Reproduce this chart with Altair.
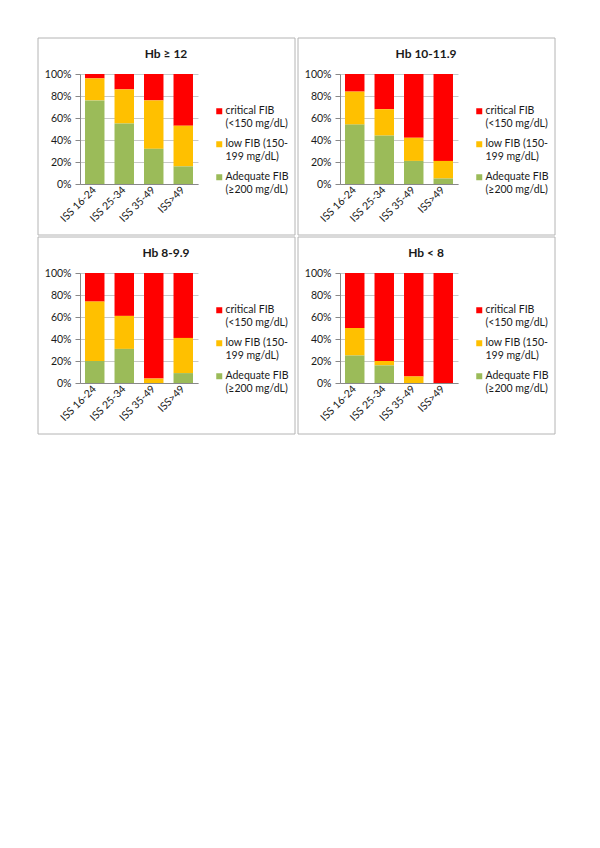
import altair as alt
import pandas as pd

categories = ["ISS 16-24", "ISS 25-34", "ISS 35-49", "ISS>49"]
panel_titles = ["Hb ≥ 12", "Hb 10-11.9", "Hb 8-9.9", "Hb < 8"]
fib_levels = ["critical FIB|(<150 mg/dL)", "low FIB (150-|199 mg/dL)", "Adequate FIB|(≥200 mg/dL)"]
fib_colors = ["#FF0000", "#FFC000", "#9BBB59"]

# percent of patients per ISS group
hb12_adequate = [76, 55, 32, 16]
hb12_low = [20, 31, 44, 37]
hb12_critical = [4, 14, 24, 47]

hb10_adequate = [54, 44, 21, 5]
hb10_low = [30, 24, 21, 16]
hb10_critical = [16, 32, 58, 79]

hb8_adequate = [20, 31, 0, 9]
hb8_low = [54, 30, 4, 32]
hb8_critical = [26, 39, 96, 59]

hblt8_adequate = [25, 16, 0, 0]
hblt8_low = [25, 4, 6, 0]
hblt8_critical = [50, 80, 94, 100]

panel_series = [
    (hb12_critical, hb12_low, hb12_adequate),
    (hb10_critical, hb10_low, hb10_adequate),
    (hb8_critical, hb8_low, hb8_adequate),
    (hblt8_critical, hblt8_low, hblt8_adequate),
]

FONT = "Lato"
TXT = "#1a1a1a"


def make_panel(title, series):
    rows = []
    for level_idx, (level, vals) in enumerate(zip(fib_levels, series)):
        for cat, v in zip(categories, vals):
            rows.append({"category": cat, "level": level, "value": v, "rank": 2 - level_idx})
    df = pd.DataFrame(rows)

    border = alt.Chart(alt.Data(values=[{"t": title}])).mark_rect(
        fill="transparent", stroke="#B4B4B4", strokeWidth=1
    ).encode(x=alt.value(-42), x2=alt.value(215), y=alt.value(-36), y2=alt.value(161))

    ttl = alt.Chart(alt.Data(values=[{"t": title}])).mark_text(
        font=FONT, fontSize=12, fontWeight="bold", color=TXT, baseline="middle", align="center"
    ).encode(x=alt.value(86), y=alt.value(-20), text="t:N")

    bars = alt.Chart(df).mark_bar().encode(
        x=alt.X(
            "category:N", sort=categories, title=None,
            scale=alt.Scale(paddingInner=0.34, paddingOuter=0.17),
            axis=alt.Axis(labelAngle=-45, labelAlign="right", labelBaseline="middle",
                          ticks=False, labelPadding=4, domainColor="#888888",
                          labelFont=FONT, labelFontSize=10.5, labelColor=TXT),
        ),
        y=alt.Y(
            "value:Q", stack="zero", title=None,
            scale=alt.Scale(domain=[0, 100], nice=False),
            axis=alt.Axis(values=[0, 20, 40, 60, 80, 100], labelExpr="datum.value + '%'",
                          ticks=True, tickSize=5, tickColor="#888888", labelPadding=4,
                          domainColor="#888888",
                          gridColor="#C8C8C8", labelFont=FONT, labelFontSize=10.5, labelColor=TXT),
        ),
        color=alt.Color(
            "level:N",
            scale=alt.Scale(domain=fib_levels, range=fib_colors),
            legend=alt.Legend(orient="none", legendX=134, legendY=32, title=None,
                              symbolType="square", symbolSize=36, symbolStrokeWidth=0,
                              labelExpr="split(datum.label, '|')", labelFont=FONT,
                              labelFontSize=10.5, labelColor=TXT, labelOffset=1,
                              rowPadding=9, padding=0),
        ),
        order=alt.Order("rank:Q"),
    )
    return alt.layer(border, bars, ttl).properties(width=118, height=110)


panels = [make_panel(t, s) for t, s in zip(panel_titles, panel_series)]

top = alt.hconcat(panels[0], panels[1], spacing=1).resolve_scale(color="independent").resolve_legend(color="independent")
bottom = alt.hconcat(panels[2], panels[3], spacing=1).resolve_scale(color="independent").resolve_legend(color="independent")

chart = alt.vconcat(top, bottom, spacing=0).resolve_scale(color="independent").resolve_legend(
    color="independent"
).properties(
    padding={"left": 29, "top": 29, "right": 5, "bottom": 5}
).configure_view(stroke="transparent")

chart.save("out.html", embed_options={"renderer": "svg", "actions": False})
